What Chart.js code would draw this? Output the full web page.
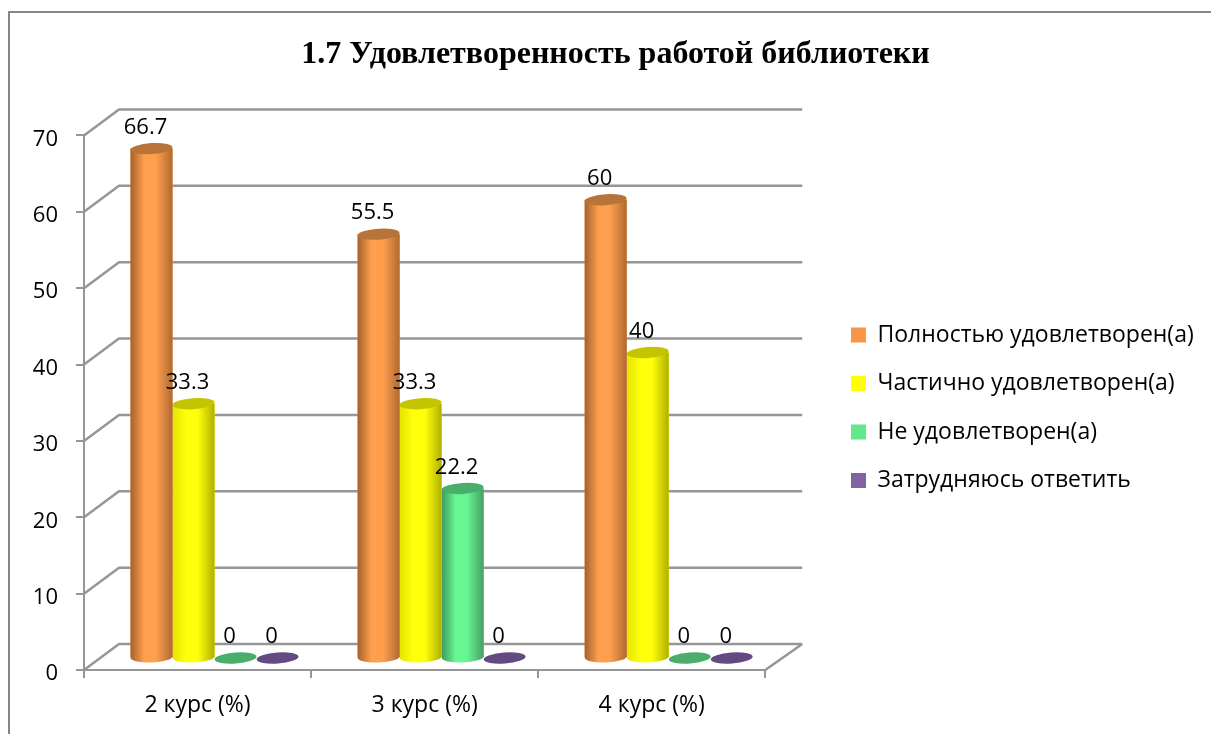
<!DOCTYPE html>
<html lang="ru">
<head>
<meta charset="utf-8">
<title>1.7 Удовлетворенность работой библиотеки</title>
<script src="https://cdn.jsdelivr.net/npm/chart.js@4"></script>
<style>
    html, body { margin: 0; padding: 0; background: #fff; overflow: hidden; }
    #wrap { width: 1211px; height: 734px; position: relative; }
</style>
</head>
<body>
<div id="wrap"><canvas id="library-chart"></canvas></div>
<script>
const courses = ['2 курс (%)', '3 курс (%)', '4 курс (%)'];
const fullySatisfied = [66.7, 55.5, 60];
const partlySatisfied = [33.3, 33.3, 40];
const notSatisfied = [0, 22.2, 0];
const hardToSay = [0, 0, 0];

const seriesNames = ['Полностью удовлетворен(а)', 'Частично удовлетворен(а)', 'Не удовлетворен(а)', 'Затрудняюсь ответить'];
const seriesValues = [fullySatisfied, partlySatisfied, notSatisfied, hardToSay];

// flat, left edge, light middle, right edge, top ellipse
const shades = [
    ['#f79646', '#a4622c', '#ff9f4e', '#b06a30', '#b8733a'],
    ['#ffff00', '#e4e400', '#ffff0a', '#b0b000', '#c4c400'],
    ['#63e68c', '#3f9a5c', '#66f792', '#479f63', '#4bad6a'],
    ['#8064a2', '#553f6e', '#8a6cae', '#553f6e', '#634a80']
];

const GRID = '#969696';
const FONT = '"Open Sans", sans-serif';

// псевдо-3D: сдвиг задней стенки и середины глубины
const WALL_DX = 35, WALL_DY = -26;
const BAR_DX = 17, BAR_DY = -12;

const walls3d = {
    id: 'walls3d',
    afterLayout(chart) {
        // заголовок и легенда стоят не там, где их ставит раскладка
        chart.titleBlock.left = 9;
        chart.titleBlock.right = 1222;
        const legend = chart.legend;
        legend.left = 851 - 25.5;
        legend.right = 1211;
        legend.top = 298;
    },
    beforeDraw(chart) {
        const ctx = chart.ctx;
        ctx.save();
        ctx.strokeStyle = '#868686';
        ctx.lineWidth = 2;
        ctx.strokeRect(9, 12, 1300, 900);
        ctx.restore();
    },
    beforeDatasetsDraw(chart) {
        const ctx = chart.ctx;
        const { left, right } = chart.chartArea;
        const y = chart.scales.y;
        ctx.save();
        ctx.strokeStyle = GRID;
        ctx.lineWidth = 2.5;
        ctx.beginPath();
        y.ticks.forEach(t => {
            const py = y.getPixelForValue(t.value);
            ctx.moveTo(left, py);
            ctx.lineTo(left + WALL_DX, py + WALL_DY);
            ctx.lineTo(right + WALL_DX + 2, py + WALL_DY);
        });
        const base = y.getPixelForValue(0);
        ctx.moveTo(right, base);
        ctx.lineTo(right + WALL_DX + 2, base + WALL_DY);
        ctx.stroke();
        ctx.restore();
    },
    beforeDatasetDraw(chart) {
        chart.ctx.save();
        chart.ctx.translate(BAR_DX, BAR_DY);
    },
    afterDatasetDraw(chart, args) {
        const ctx = chart.ctx;
        const [, leftEdge, light, rightEdge, top] = shades[args.index];
        args.meta.data.forEach(bar => {
            const half = bar.width / 2;
            const ry = 5.5;
            const g = ctx.createLinearGradient(bar.x - half, 0, bar.x + half, 0);
            g.addColorStop(0, leftEdge);
            g.addColorStop(0.33, light);
            g.addColorStop(0.6, light);
            g.addColorStop(1, rightEdge);
            ctx.fillStyle = g;
            if (bar.base - bar.y > 0.5) {
                ctx.fillRect(bar.x - half, bar.y, bar.width, bar.base - bar.y);
                ctx.beginPath();
                ctx.ellipse(bar.x, bar.base, half, ry, -0.04, 0, Math.PI * 2);
                ctx.fill();
            }
            ctx.fillStyle = top;
            ctx.beginPath();
            ctx.ellipse(bar.x, bar.y, half, ry, -0.07, 0, Math.PI * 2);
            ctx.fill();
        });
        ctx.restore();
    },
    afterDatasetsDraw(chart) {
        const ctx = chart.ctx;
        ctx.save();
        ctx.fillStyle = '#000';
        ctx.font = '22px ' + FONT;
        ctx.textAlign = 'center';
        ctx.textBaseline = 'middle';
        chart.data.datasets.forEach((ds, i) => {
            chart.getDatasetMeta(i).data.forEach((bar, j) => {
                ctx.fillText(String(ds.data[j]), bar.x + BAR_DX - 6, bar.y + BAR_DY - 21);
            });
        });
        ctx.restore();
    }
};

new Chart(document.getElementById('library-chart'), {
    type: 'bar',
    data: {
        labels: courses,
        datasets: seriesNames.map((name, i) => ({
            label: name,
            data: seriesValues[i],
            backgroundColor: shades[i][0],
            borderWidth: 0,
            categoryPercentage: 0.74,
            barPercentage: 1,
            clip: false
        }))
    },
    options: {
        responsive: true,
        maintainAspectRatio: false,
        animation: false,
        // легенда получает четверть ширины, так правый край области = 765
        layout: { padding: { left: 10, right: 194 } },
        plugins: {
            tooltip: { enabled: false },
            title: {
                display: true,
                text: '1.7 Удовлетворенность работой библиотеки',
                color: '#000',
                font: { family: '"Liberation Serif", serif', size: 32, weight: 'bold', lineHeight: 1.2 },
                padding: { top: 36, bottom: 61 }
            },
            legend: {
                position: 'right',
                align: 'start',
                labels: {
                    color: '#000',
                    boxWidth: 15,
                    boxHeight: 15,
                    padding: 25.5,
                    font: { family: FONT, size: 23 }
                }
            }
        },
        scales: {
            x: {
                grid: { color: GRID, lineWidth: 2, drawOnChartArea: false, tickLength: 8 },
                border: { color: GRID, width: 2 },
                ticks: { color: '#000', padding: 14, font: { family: FONT, size: 23 } },
                afterFit(scale) { scale.height = 64; }
            },
            y: {
                min: 0,
                max: 70,
                grid: { color: GRID, lineWidth: 2, drawOnChartArea: false, tickLength: 8 },
                border: { color: GRID, width: 2 },
                ticks: { stepSize: 10, color: '#000', padding: 18, labelOffset: 4, font: { family: FONT, size: 22 } },
                afterFit(scale) { scale.width = 74; }
            }
        }
    },
    plugins: [walls3d]
});
</script>
</body>
</html>
